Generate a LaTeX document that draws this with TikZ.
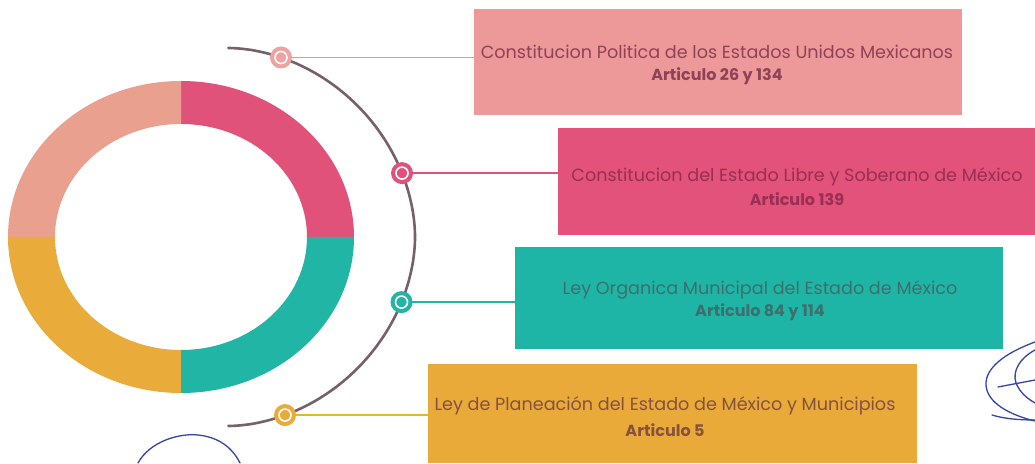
\documentclass[tikz,border=0pt]{standalone}
\usepackage{fontspec}
\setmainfont{Poppins}
\usetikzlibrary{calc}
\definecolor{segsalmon}{HTML}{E9A08E}
\definecolor{segpink}{HTML}{E0527A}
\definecolor{segteal}{HTML}{20B5A5}
\definecolor{segorange}{HTML}{E9AC3A}
\definecolor{boxone}{HTML}{EE9999}
\definecolor{boxtwo}{HTML}{E2527A}
\definecolor{boxthree}{HTML}{1FB5A6}
\definecolor{boxfour}{HTML}{EAAA3A}
\definecolor{arccol}{HTML}{76606A}
\definecolor{txtone}{HTML}{8E4258}
\definecolor{txttwo}{HTML}{9A2E55}
\definecolor{txtthree}{HTML}{3E6F6C}
\definecolor{txtfour}{HTML}{84523E}
\definecolor{dotone}{HTML}{F0A2A2}
\definecolor{lineone}{HTML}{F0909E}
\definecolor{linefour}{HTML}{E8B820}
\definecolor{ink}{HTML}{3444A8}
\newcommand\myarcx[1]{227+188*(cos(#1))^(1.0526)}
\newcommand\myarcy[1]{226+189*sign(sin(#1))*(abs(sin(#1))+0.00001)^(1.0526)}
\tikzset{
  panel/.style={rectangle, inner sep=0pt, outer sep=0pt},
  title/.style={font=\fontsize{17.6}{20}\selectfont, inner sep=0pt, anchor=center},
  sub/.style={font=\fontsize{16}{18}\selectfont\bfseries, inner sep=0pt, anchor=center},
  conn/.style={line width=1.3pt},
  scribble/.style={draw=ink, line width=1.3pt, line cap=round}
}
\begin{document}
\begin{tikzpicture}[x=1pt,y=1pt]
\useasboundingbox (0,0) rectangle (1035,463);
\fill[white] (0,0) rectangle (1035,463);
% ring
\coordinate (rc) at (181,226);
\fill[segpink] ($(rc)+(173,0)$) arc[start angle=0,end angle=90,x radius=173,y radius=156]
  -- ($(rc)+(0,113)$) arc[start angle=90,end angle=0,x radius=126,y radius=113] -- cycle;
\fill[segsalmon] ($(rc)+(0,156)$) arc[start angle=90,end angle=180,x radius=173,y radius=156]
  -- ($(rc)+(-126,0)$) arc[start angle=180,end angle=90,x radius=126,y radius=113] -- cycle;
\fill[segorange] ($(rc)+(-173,0)$) arc[start angle=180,end angle=270,x radius=173,y radius=156]
  -- ($(rc)+(0,-113)$) arc[start angle=270,end angle=180,x radius=126,y radius=113] -- cycle;
\fill[segteal] ($(rc)+(0,-156)$) arc[start angle=270,end angle=360,x radius=173,y radius=156]
  -- ($(rc)+(126,0)$) arc[start angle=360,end angle=270,x radius=126,y radius=113] -- cycle;
% arc
\draw[arccol, line width=2.6pt, line cap=round]
  plot[domain=-89.5:89.5, samples=120, smooth] ({\myarcx{\x}}, {\myarcy{\x}});
\coordinate (p1) at ({\myarcx{72.2}}, {\myarcy{72.2}});
\coordinate (p2) at ({\myarcx{20.9}}, {\myarcy{20.9}});
\coordinate (p3) at ({\myarcx{-21.3}}, {\myarcy{-21.3}});
\coordinate (p4) at ({\myarcx{-70.9}}, {\myarcy{-70.9}});
% boxes
\node[panel, fill=boxone, minimum width=488pt, minimum height=106pt] (b1) at (718,401) {};
\node[panel, fill=boxtwo, minimum width=477pt, minimum height=107pt] (b2) at (796.5,281.5) {};
\node[panel, fill=boxthree, minimum width=488pt, minimum height=102pt] (b3) at (759,165) {};
\node[panel, fill=boxfour, minimum width=489pt, minimum height=99pt] (b4) at (672.5,49.5) {};
% texts
\node[title, text=txtone] (t1) at (717,411) {Constitucion Politica de los Estados Unidos Mexicanos};
\node[sub, text=txtone] (s1) at (717,387) {Articulo 26 y 134};
\node[title, text=txttwo] (t2) at (797,286) {Constitucion del Estado Libre y Soberano de México};
\node[sub, text=txttwo] (s2) at (797,264) {Articulo 139};
\node[title, text=txtthree] (t3) at (760,173) {Ley Organica Municipal del Estado de México};
\node[sub, text=txtthree] (s3) at (760,151) {Articulo 84 y 114};
\node[title, text=txtfour] (t4) at (665,57) {Ley de Planeación del Estado de México y Municipios};
\node[sub, text=txtfour] (s4) at (665,33) {Articulo 5};
% connectors
\draw[conn, lineone] (p1) -- (p1 -| b1.west);
\draw[conn, segpink] (p2) -- (p2 -| b2.west);
\draw[conn, segteal] (p3) -- (p3 -| b3.west);
\draw[conn, linefour] (p4) -- (p4 -| b4.west);
% dots
\foreach \p/\c in {p1/dotone, p2/segpink, p3/segteal, p4/segorange}{
  \fill[\c] (\p) circle (11);
  \draw[white, line width=1.6pt] (\p) circle (6);
}
% scribbles
\draw[scribble] (138,0) .. controls (150,22) and (180,30) .. (198,28)
  .. controls (218,26) and (232,16) .. (240,0);
\draw[scribble] (1035,121) .. controls (1005,110) and (985,95) .. (986,78)
  .. controls (987,60) and (1010,48) .. (1035,42);
\draw[scribble] (1035,113) .. controls (1020,105) and (1012,92) .. (1016,80)
  .. controls (1020,70) and (1028,64) .. (1035,60);
\draw[scribble] (998,76) -- (1035,83);
\draw[scribble] (992,48) .. controls (1005,44) and (1020,43) .. (1035,43);
\end{tikzpicture}
\end{document}
